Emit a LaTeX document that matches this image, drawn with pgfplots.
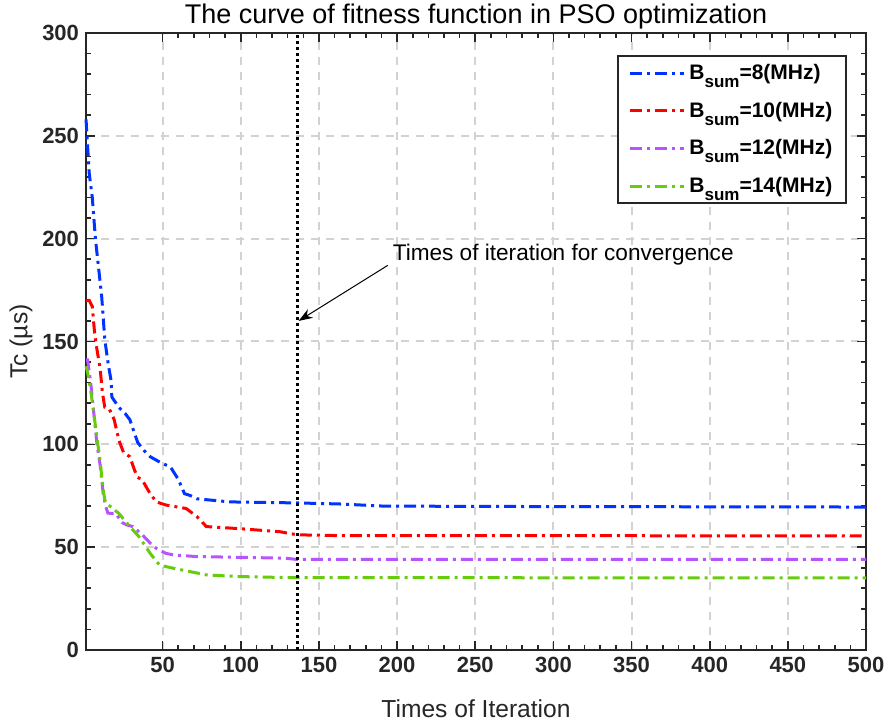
\documentclass[border=0pt]{standalone}
\usepackage{pgfplots}
\pgfplotsset{compat=1.18}
\usepackage{fontspec}
\setmainfont{Liberation Sans}
\usetikzlibrary{arrows.meta}
\definecolor{axgray}{rgb}{0.15,0.15,0.15}
\definecolor{cblue}{rgb}{0,0.2,1}
\definecolor{cred}{rgb}{1,0,0}
\definecolor{cpurple}{rgb}{0.72,0.33,1}
\definecolor{cgreen}{rgb}{0.4,0.8,0.05}
\newcommand{\bs}[1]{\textbf{B\raisebox{-0.75ex}{\fontsize{8.5}{10}\selectfont sum}=#1(MHz)}}
\begin{document}
\begin{tikzpicture}
\begin{axis}[
  scale only axis,
  width=390pt, height=308.5pt,
  xmin=1, xmax=500, ymin=0, ymax=300,
  xtick={50,100,...,500}, ytick={0,50,...,300},
  minor x tick num=4, minor y tick num=4,
  tick align=inside,
  major tick length=4.5pt, minor tick length=2.5pt,
  every tick/.style={axgray, line width=0.8pt},
  axis line style={axgray, line width=1pt},
  grid=major,
  major grid style={gray!35, line width=1pt, dash pattern=on 4pt off 3.5pt},
  tick label style={font=\bfseries\fontsize{11}{13}\selectfont, text=axgray},
  /pgf/number format/assume math mode=true,
  title={The curve of fitness function in PSO optimization},
  title style={font=\fontsize{13.5}{15}\selectfont, yshift=-7.5pt},
  xlabel={Times of Iteration},
  ylabel={Tc (µs)},
  label style={font=\fontsize{12.3}{14}\selectfont, text=axgray},
  xlabel style={yshift=-6.5pt},
  ylabel style={yshift=-2pt},
  legend style={at={(rel axis cs:0.976,0.964)}, anchor=north east,
    draw=axgray, line width=1pt, font=\fontsize{10.5}{12}\selectfont,
    row sep=5.7pt, inner xsep=5pt, inner ysep=2pt},
  legend cell align=left,
  legend image code/.code={\draw[#1] (0pt,0pt) -- (27pt,0pt);},
  clip=false,
  every axis plot/.append style={line width=1.5pt, dash pattern=on 6pt off 2.5pt on 1.5pt off 2.5pt},
]
\addplot[cblue] coordinates {(1,258) (3,232) (5,220) (7,200) (9,186) (11,172) (13,151) (15,140) (17,131) (17.5,123) (22,118) (26,115) (29,112) (34,101) (38,97) (42,94) (49,91) (55,89) (60,83) (64,76) (68,75) (72,73.5) (93,72) (136,71.5) (163,71) (190,70) (250,69.8) (500,69.5)};
\addlegendentry{\bs{8}}
\addplot[cred] coordinates {(1,170) (3,170) (5,167) (6.5,154) (8,146) (10,137) (11.5,125) (13,118) (16,117) (19,112) (22,102) (25,96) (29,94) (32,87.5) (34,84) (37,82.6) (42,76) (46,72) (52,70.5) (65,68.8) (72,64.8) (78,60) (99,59) (125,57.5) (136,56) (163,55.6) (500,55.5)};
\addlegendentry{\bs{10}}
\addplot[cpurple] coordinates {(1,141) (2,141) (4,130) (6,115) (8,100) (10,90) (12,76) (13.5,70) (15,66.5) (20,66.4) (24,62) (27,60.8) (31,60) (37,56) (42,52) (46,49.4) (52,47) (57,46.2) (72,45.4) (104,45) (129,44.6) (136,44) (500,44)};
\addlegendentry{\bs{12}}
\addplot[cgreen] coordinates {(1,138) (2,135) (4,126) (6,115) (8,103) (10,92) (11.7,79.4) (13,73) (14,71.3) (18,68.9) (22,66.4) (29,60) (35,55) (42,47) (48,41.3) (57,39.7) (78,36.5) (99,35.7) (130,35.2) (500,35)};
\addlegendentry{\bs{14}}
\addplot[black, line width=1.5pt, dash pattern=on 1.5pt off 1.5pt, forget plot] coordinates {(136,0) (136,300)};
\draw[-{Stealth[length=7pt,width=5pt]}, line width=0.5pt] (axis cs:194,187) -- (axis cs:137,160);
\node[anchor=west, font=\fontsize{11.3}{13}\selectfont, inner sep=0pt] at (axis cs:197,192) {Times of iteration for convergence};
\coordinate (bl) at (rel axis cs:-0.1103,-0.1232);
\coordinate (tr) at (rel axis cs:1.0269,1.0535);
\end{axis}
\pgfresetboundingbox
\useasboundingbox (bl) rectangle (tr);
\end{tikzpicture}
\end{document}
